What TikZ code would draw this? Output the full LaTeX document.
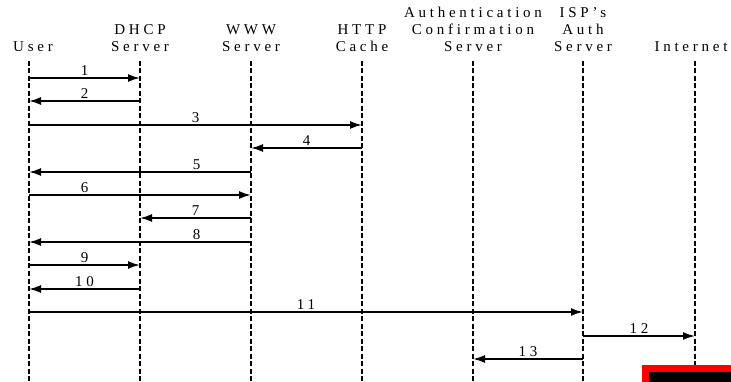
\documentclass[tikz,border=0pt]{standalone}
\usepackage{fontspec}
\setmainfont[LetterSpace=25]{Liberation Serif}
\usepackage{tikz}
\usetikzlibrary{arrows.meta}

\begin{document}
\begin{tikzpicture}[x=1pt,y=-1pt,>={Latex[length=12pt,width=8pt]},
  font={\fontsize{15}{17}\selectfont},
  head/.style={inner sep=0pt,align=center,anchor=south},
  life/.style={line width=2pt,dash pattern=on 5pt off 2.5pt},
  msg/.style={->,line width=1.8pt},
  num/.style={above,inner sep=1.2pt}]
\useasboundingbox (0,0) rectangle (731,382);
% lifeline tops
\coordinate (user) at (29,61);
\coordinate (dhcp) at (140,61);
\coordinate (www) at (251,61);
\coordinate (cache) at (362,61);
\coordinate (acs) at (473,61);
\coordinate (isp) at (583,61);
\coordinate (net) at (695,61);
% headers
\node[head] (userh) at (33,52) {User};
\node[head] (dhcph) at (dhcp |- 0,52) {DHCP\\ Server};
\node[head] (wwwh) at (www |- 0,52) {WWW\\ Server};
\node[head] (cacheh) at (cache |- 0,52) {HTTP\\ Cache};
\node[head] (acsh) at (acs |- 0,52) {Authentication\\ Confirmation\\ Server};
\node[head] (isph) at (isp |- 0,52) {ISP's\\ Auth\\ Server};
\node[head] (neth) at (691,52) {Internet};
% lifelines
\draw[life] (user) -- (user |- 0,382);
\draw[life] (dhcp) -- (dhcp |- 0,382);
\draw[life] (www) -- (www |- 0,382);
\draw[life] (cache) -- (cache |- 0,382);
\draw[life] (acs) -- (acs |- 0,382);
\draw[life] (isp) -- (isp |- 0,382);
\draw[life] (net) -- (net |- 0,365);
% messages
\draw[msg] (user |- 0,78) -- node[num]{1} (dhcp |- 0,78);
\draw[msg] (dhcp |- 0,101) -- node[num]{2} (user |- 0,101);
\draw[msg] (user |- 0,125) -- node[num]{3} (cache |- 0,125);
\draw[msg] (cache |- 0,148) -- node[num]{4} (www |- 0,148);
\draw[msg] (www |- 0,172) -- node[num,pos=.245]{5} (user |- 0,172);
\draw[msg] (user |- 0,195) -- node[num,pos=.25]{6} (www |- 0,195);
\draw[msg] (www |- 0,218) -- node[num]{7} (dhcp |- 0,218);
\draw[msg] (www |- 0,242) -- node[num,pos=.245]{8} (user |- 0,242);
\draw[msg] (user |- 0,265) -- node[num]{9} (dhcp |- 0,265);
\draw[msg] (dhcp |- 0,289) -- node[num]{10} (user |- 0,289);
\draw[msg] (user |- 0,312) -- node[num]{11} (isp |- 0,312);
\draw[msg] (isp |- 0,336) -- node[num]{12} (net |- 0,336);
\draw[msg] (isp |- 0,359) -- node[num]{13} (acs |- 0,359);
% box at the lower right
\fill[red] (642,365) rectangle (731,382);
\fill[black] (649,372) rectangle (731,382);
\end{tikzpicture}
\end{document}
